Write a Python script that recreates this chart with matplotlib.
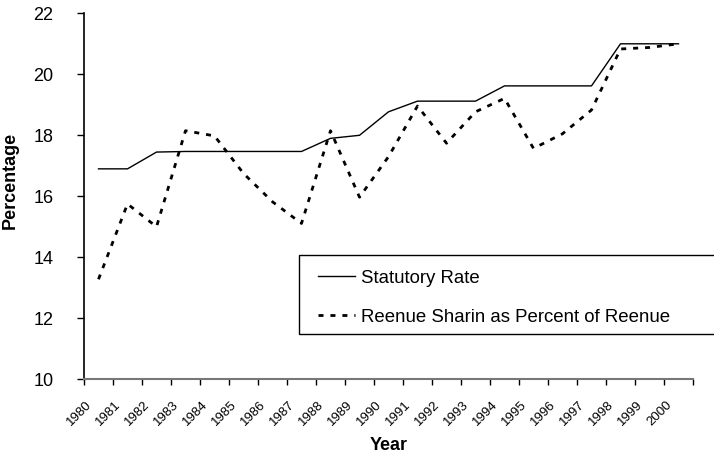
import numpy as np
import matplotlib.pyplot as plt
from matplotlib.patches import Rectangle
from matplotlib.transforms import ScaledTranslation

plt.rcParams['font.family'] = ['Liberation Sans', 'DejaVu Sans']
plt.rcParams['lines.scale_dashes'] = False

# data
years = [str(y) for y in range(1980, 2001)]
statutory = [16.9, 16.9, 17.45, 17.47, 17.47, 17.47, 17.47, 17.47, 17.9, 18.0, 18.77,
             19.12, 19.12, 19.12, 19.62, 19.62, 19.62, 19.62, 21.0, 21.0, 21.0]
revenue = [13.28, 15.75, 15.0, 18.15, 17.98, 16.75, 15.82, 15.11, 18.15, 15.97, 17.3,
           18.96, 17.74, 18.77, 19.21, 17.57, 18.05, 18.83, 20.83, 20.88, 21.0]
labels = ["Statutory Rate", "Reenue Sharin as Percent of Reenue"]

fig = plt.figure(figsize=(7.14, 4.55), dpi=100)
ax = fig.add_axes([84/714, 1-379.3/455, 609/714, 366/455])

x = np.arange(len(years))
l1, = ax.plot(x, statutory, color='black', lw=1.0)
l2, = ax.plot(x, revenue, color='black', lw=2.0, dashes=(3.6, 5))

ax.set_xlim(-0.5, len(years)-0.5)
ax.set_ylim(10, 22)
ax.set_yticks(np.arange(10, 23, 2))

# category labels at centres, tick marks at the boundaries
ax.set_xticks(x)
ax.set_xticklabels(years, rotation=45, ha='right', fontsize=9.5)
ax.set_xticks(np.arange(-0.5, len(years)), minor=True)
ax.tick_params(axis='x', which='major', length=0, pad=14)
ax.tick_params(axis='x', which='minor', length=4, width=1, direction='out')
off = ScaledTranslation(-4/100, 0, fig.dpi_scale_trans)
for t in ax.get_xticklabels():
    t.set_transform(t.get_transform() + off)
ax.tick_params(axis='y', length=5, width=1, direction='out', labelsize=13, pad=17)

for s in ['top', 'right']:
    ax.spines[s].set_visible(False)
ax.spines['left'].set_linewidth(1.2)
ax.spines['bottom'].set_color('#777777')
ax.spines['bottom'].set_linewidth(1.5)

ax.set_xlabel("Year", fontsize=13, fontweight='bold', labelpad=6.5)
ax.set_ylabel("Percentage", fontsize=13, fontweight='bold')
ax.yaxis.set_label_coords(-0.107, 0.542)

# legend box runs off the right edge like the original
ax.add_patch(Rectangle(((299-84)/609, (379.3-334)/366), 1.0, 79/366,
                       transform=ax.transAxes, facecolor='white', edgecolor='black',
                       lw=1.0, clip_on=False, zorder=3))
leg = ax.legend([l1, l2], labels, loc='upper left', frameon=False, fontsize=13.4,
                bbox_to_anchor=((318-84)/609 - 0.006, (379.3-266)/366),
                handlelength=2.0, handletextpad=0.3, labelspacing=1.17,
                borderpad=0.2, borderaxespad=0)
leg.set_zorder(4)

plt.savefig("out.png", dpi=100)
